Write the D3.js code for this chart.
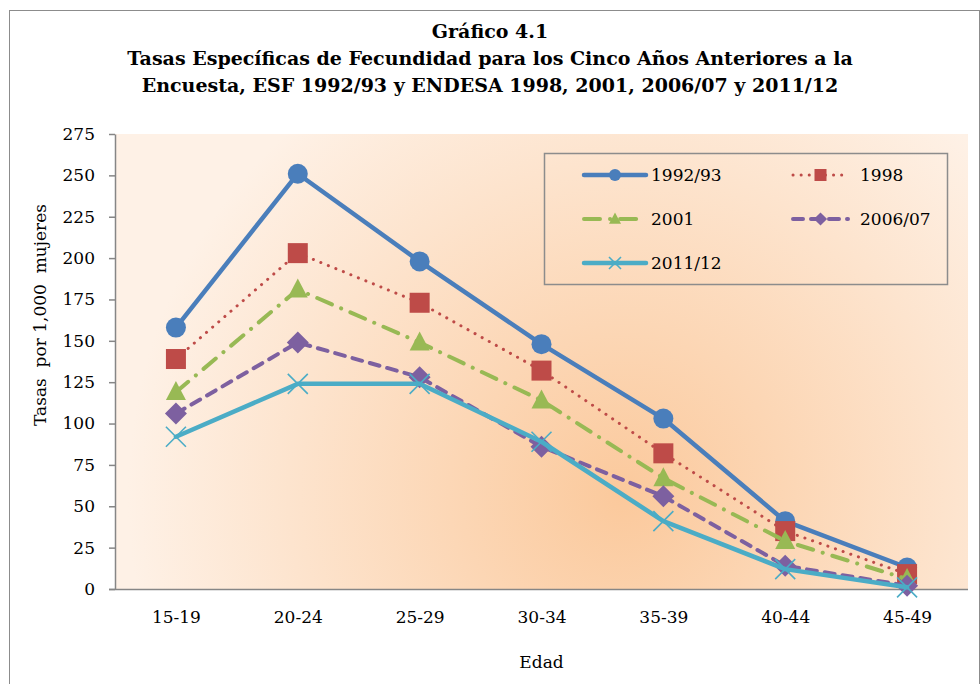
<!DOCTYPE html>
<html>
<head>
<meta charset="utf-8">
<script src="https://cdn.jsdelivr.net/npm/d3@7"></script>
<style>
  body { margin: 0; background: #fff; }
  svg text { font-family: "DejaVu Serif", serif; fill: #000; }
</style>
</head>
<body>
<div id="chart"></div>
<script>
// data
const ageGroups = ["15-19", "20-24", "25-29", "30-34", "35-39", "40-44", "45-49"];
const s1992 = [158, 251, 198, 148, 103, 41, 13];
const s1998 = [139, 203, 173, 132, 82, 35, 9];
const s2001 = [119, 181, 149, 114, 67, 29, 6];
const s2006 = [106, 149, 128, 86, 56, 14, 2];
const s2011 = [92, 124, 124, 89, 41, 12, 1];
const seriesNames = ["1992/93", "1998", "2001", "2006/07", "2011/12"];
const yTicks = [0, 25, 50, 75, 100, 125, 150, 175, 200, 225, 250, 275];
const titleLines = [
    "Gráfico 4.1",
    "Tasas Específicas de Fecundidad para los Cinco Años Anteriores a la",
    "Encuesta, ESF 1992/93 y ENDESA 1998, 2001, 2006/07 y 2011/12"
];

function drawChart(){
    const W = 980, H = 684;
    const margin = {l: 115, r: 12, t: 134, b: 95};
    const width = W - margin.l - margin.r;
    const height = H - margin.t - margin.b;
    const font = "'DejaVu Serif', serif";

    const svg = d3.select("#chart").append("svg")
        .attr("width", W)
        .attr("height", H);

    //outer chart border
    svg.append("rect")
        .attr("x", 9.5).attr("y", 10.5)
        .attr("width", W - 10).attr("height", H)
        .attr("fill", "#fff")
        .attr("stroke", "#8c8c8c");

    //background gradient
    const defs = svg.append("defs");
    const grad = defs.append("radialGradient")
        .attr("id", "bg")
        .attr("gradientUnits", "userSpaceOnUse")
        .attr("cx", margin.l + width * 0.46)
        .attr("cy", margin.t + height * 0.5)
        .attr("r", width * 0.58);
    grad.append("stop").attr("offset", "0%").attr("stop-color", "#fbc99c");
    grad.append("stop").attr("offset", "100%").attr("stop-color", "#fef1e6");

    //title
    svg.selectAll(".title")
        .data(titleLines)
        .enter().append("text")
        .attr("class", "title")
        .attr("x", 490)
        .attr("y", (d, i) => 38 + i * 27)
        .attr("text-anchor", "middle")
        .style("font-size", "19px")
        .style("font-weight", "bold")
        .text(d => d);

    const g = svg.append("g")
        .attr("transform", `translate(${margin.l}, ${margin.t})`);

    g.append("rect")
        .attr("width", width)
        .attr("height", height)
        .attr("fill", "url(#bg)");

    const x = d3.scalePoint().domain(ageGroups).range([0, width]).padding(0.5);
    const y = d3.scaleLinear().domain([0, 275]).range([height, 0]);

    //y axis
    const yAxis = g.append("g")
        .call(d3.axisLeft(y).tickValues(yTicks).tickSize(6).tickSizeOuter(0).tickPadding(14));
    yAxis.selectAll("line, path").attr("stroke", "#868686").attr("stroke-width", 1.5);
    yAxis.selectAll("text").style("font-size", "17px").style("font-family", font);

    //x axis
    const xAxis = g.append("g")
        .attr("transform", `translate(0,${height})`)
        .call(d3.axisBottom(x).tickSize(0).tickSizeOuter(0).tickPadding(22));
    xAxis.select("path").attr("d", `M-6,0.5H${width}`).attr("stroke", "#868686").attr("stroke-width", 1.5);
    xAxis.selectAll("text").style("font-size", "17px").style("font-family", font);

    //axis titles
    g.append("text")
        .attr("transform", "rotate(-90)")
        .attr("x", -181)
        .attr("y", -69)
        .attr("text-anchor", "middle")
        .style("font-size", "17px")
        .style("white-space", "pre")
        .text("Tasas  por 1,000  mujeres");
    g.append("text")
        .attr("x", width / 2)
        .attr("y", height + 79)
        .attr("text-anchor", "middle")
        .style("font-size", "17px")
        .text("Edad");

    const styles = [
        {color: "#4a7ebb", width: 4.5, dash: null, marker: "circle"},
        {color: "#be4b48", width: 3, dash: "0.1 8", marker: "square"},
        {color: "#98b954", width: 4, dash: "16 10 0.1 10", marker: "triangle"},
        {color: "#7d60a0", width: 4, dash: "10 8", marker: "diamond"},
        {color: "#4bacc6", width: 4.5, dash: null, marker: "cross"}
    ];
    const allSeries = [s1992, s1998, s2001, s2006, s2011];

    const line = d3.line()
        .x((d, i) => x(ageGroups[i]))
        .y(d => y(d));

    function drawMarker(sel, type, color, px, py, size) {
        const s = size || 1;
        if (type === "circle") {
            sel.append("circle").attr("cx", px).attr("cy", py).attr("r", 10 * s).attr("fill", color);
        } else if (type === "square") {
            sel.append("rect").attr("x", px - 10 * s).attr("y", py - 10 * s)
                .attr("width", 20 * s).attr("height", 20 * s).attr("fill", color);
        } else if (type === "triangle") {
            sel.append("path").attr("d", `M${px},${py - 11 * s}L${px + 10 * s},${py + 8 * s}L${px - 10 * s},${py + 8 * s}Z`)
                .attr("fill", color);
        } else if (type === "diamond") {
            sel.append("path").attr("d", `M${px},${py - 11 * s}L${px + 11 * s},${py}L${px},${py + 11 * s}L${px - 11 * s},${py}Z`)
                .attr("fill", color);
        } else if (type === "cross") {
            sel.append("path").attr("d", `M${px - 10 * s},${py - 10 * s}L${px + 10 * s},${py + 10 * s}M${px + 10 * s},${py - 10 * s}L${px - 10 * s},${py + 10 * s}`)
                .attr("stroke", color).attr("stroke-width", 1.6).attr("fill", "none");
        }
    }

    allSeries.forEach(function(vals, k) {
        const st = styles[k];
        const sg = g.append("g").attr("class", "series");
        sg.append("path")
            .datum(vals)
            .attr("d", line)
            .attr("fill", "none")
            .attr("stroke", st.color)
            .attr("stroke-width", st.width)
            .attr("stroke-linecap", "round")
            .attr("stroke-linejoin", "round")
            .attr("stroke-dasharray", st.dash);
        vals.forEach(function(v, i) {
            drawMarker(sg, st.marker, st.color, x(ageGroups[i]), y(v), 1);
        });
    });

    //legend
    const legend = svg.append("g").attr("class", "legend");
    legend.append("rect")
        .attr("x", 544.5).attr("y", 153.5)
        .attr("width", 403).attr("height", 131)
        .attr("fill", "none")
        .attr("stroke", "#8c8c8c")
        .attr("stroke-width", 1.5);
    const legendPos = [[584, 175], [793, 175], [584, 219], [793, 219], [584, 263]];
    seriesNames.forEach(function(name, k) {
        const st = styles[k];
        const [lx, ly] = legendPos[k];
        const len = k % 2 === 0 ? 62 : 55;
        legend.append("line")
            .attr("x1", lx).attr("x2", lx + len)
            .attr("y1", ly).attr("y2", ly)
            .attr("stroke", st.color)
            .attr("stroke-width", st.width)
            .attr("stroke-linecap", "round")
            .attr("stroke-dasharray", st.dash);
        drawMarker(legend, st.marker, st.color, lx + len / 2, ly, 0.6);
        legend.append("text")
            .attr("x", k % 2 === 0 ? 651 : 860)
            .attr("y", ly + 6)
            .style("font-size", "17px")
            .text(name);
    });
}

drawChart();
</script>
</body>
</html>
